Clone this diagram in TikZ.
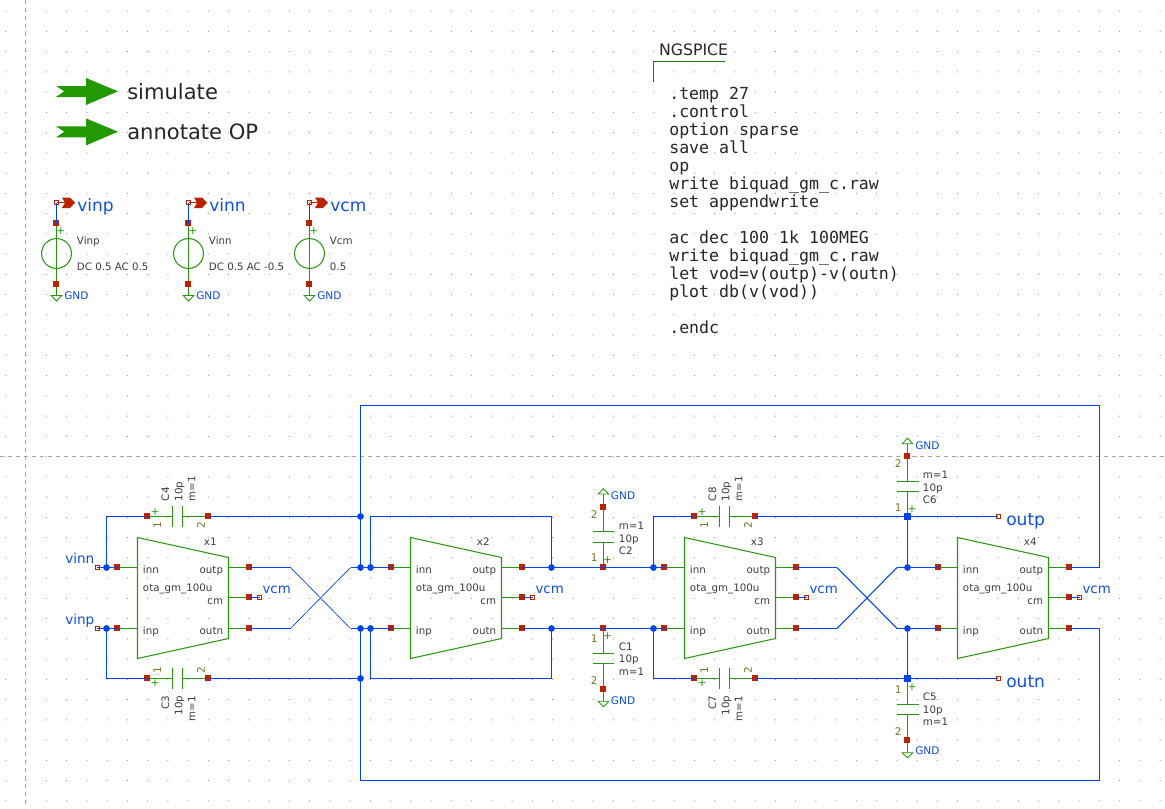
\documentclass[tikz,border=0pt]{standalone}
\usepackage{fontspec}
\setmainfont{DejaVu Sans}
\newfontfamily\codefont{DejaVu Sans Mono}
\pgfdeclarelayer{symbols}
\pgfdeclarelayer{top}
\pgfsetlayers{symbols,main,top}
\definecolor{wireblue}{HTML}{0044EE}
\definecolor{labblue}{HTML}{1050E0}
\definecolor{pinred}{HTML}{BB2200}
\definecolor{symgreen}{HTML}{2A9510}
\definecolor{arrowgreen}{HTML}{229900}
\definecolor{numolive}{HTML}{777722}
\definecolor{txtgray}{HTML}{3C3C3C}
\definecolor{dotgray}{HTML}{A0A0A0}
\tikzset{
  wire/.style={draw=wireblue,line width=0.88pt,line join=miter},
  thinwire/.style={draw=wireblue,line width=0.5pt},
  boldcross/.style={draw=wireblue,line width=0.8pt},
  sym/.style={draw=symgreen,line width=0.78pt},
  redpin/.style={draw=none,inner sep=0pt,minimum size=4.9pt,rectangle,
     preaction={fill=pinred,transform canvas={xshift=-0.3pt,yshift=0.3pt}}},
  tinypin/.style={fill=white,draw=pinred,line width=0.6pt,inner sep=0pt,minimum size=3pt,rectangle},
  junc/.style={fill=wireblue,draw=none,inner sep=0pt,minimum size=5.1pt,circle},
  juncsq/.style={fill=wireblue,draw=none,inner sep=0pt,minimum size=4.6pt,rectangle},
  smalltxt/.style={inner sep=0pt,text=txtgray,yshift=-0.5pt,font=\fontsize{7.7}{9}\selectfont},
  gndtxt/.style={inner sep=0pt,text=labblue,yshift=-0.5pt,anchor=base west,font=\fontsize{7.9}{9}\selectfont},
  midlab/.style={inner sep=0pt,text=labblue,yshift=-0.5pt,anchor=base west,font=\fontsize{10}{12}\selectfont},
  biglab/.style={inner sep=0pt,text=labblue,yshift=-0.5pt,anchor=base west,font=\fontsize{12.8}{14}\selectfont},
  pinnum/.style={inner sep=0pt,text=numolive,font=\fontsize{7.9}{9}\selectfont},
  launchtxt/.style={inner sep=0pt,text=black!85,anchor=base west,font=\fontsize{15.8}{18}\selectfont},
  plusmark/.style={inner sep=0pt,text=arrowgreen,font=\fontsize{8}{9}\selectfont},
}
\newcommand{\symline}[1]{\begin{pgfonlayer}{symbols}\draw[sym] #1;\end{pgfonlayer}}
% OTA symbol: name, left edge x, left pin offset
\newcommand{\otasym}[3]{%
  \begin{scope}[shift={(#2,0)}]
    \node[redpin] (#1inn) at (#3,567.5) {};
    \node[redpin] (#1inp) at (#3,628.5) {};
    \node[redpin] (#1outp) at (112,567.5) {};
    \node[redpin] (#1cm) at (112,597.5) {};
    \node[redpin] (#1outn) at (112,628.5) {};
    \node[tinypin] (#1vcm) at (122,597.5) {};
    \symline{(0,537.5) -- (91,557.5) -- (91,638.5) -- (0,658.5) -- cycle}
    \symline{(#1inn.center) -- (0,567.5)}
    \symline{(#1inp.center) -- (0,628.5)}
    \symline{(91,567.5) -- (#1outp.center)}
    \symline{(91,597.5) -- (#1cm.center)}
    \symline{(91,628.5) -- (#1outn.center)}
    \node[smalltxt,anchor=base west] (#1tinn) at (5.2,573.3) {inn};
    \node[smalltxt,anchor=base west] (#1tinp) at (5.2,634) {inp};
    \node[smalltxt,anchor=base east] (#1toutp) at (85.8,573.3) {outp};
    \node[smalltxt,anchor=base east] (#1toutn) at (85.8,634) {outn};
    \node[smalltxt,anchor=base east] (#1tcm) at (85.8,603.7) {cm};
    \node[smalltxt,anchor=base west] (#1tmod) at (5.2,591) {ota\_gm\_100u};
    \node[smalltxt,anchor=base west] (#1tname) at (66.2,545) {#1};
    \node[midlab] (#1tvcm) at (124.8,593.3) {vcm};
    \draw[wire] (#1cm.center) -- (#1vcm.center);
  \end{scope}}
% horizontal capacitor: name, pin 1 x, y, side (+1 below / -1 above)
\newcommand{\hcap}[4]{%
  \begin{scope}[shift={(#2,#3)}]
    \node[redpin] (#1a) at (0,0) {};
    \node[redpin] (#1b) at (61,0) {};
    \symline{(#1a.center) -- (25,0) (25,-10.5) -- (25,10.5)
               (35,-10.5) -- (35,10.5) (35,0) -- (#1b.center)}
    \ifnum#4>0
      \node[plusmark] (#1plus) at (7.7,5) {+};
      \node[pinnum,rotate=90] (#1n1) at (9.7,-8.3) {1};
      \node[pinnum,rotate=90] (#1n2) at (53.4,-8.3) {2};
      \node[smalltxt,rotate=90,anchor=base east] (#1t1) at (21.5,16.5) {#1};
      \node[smalltxt,rotate=90,anchor=base east] (#1t2) at (34.8,16.5) {10p};
      \node[smalltxt,rotate=90,anchor=base east] (#1t3) at (47.8,16.5) {m=1};
    \else
      \node[plusmark] (#1plus) at (7.7,-4.5) {+};
      \node[pinnum,rotate=90] (#1n1) at (9.7,8.5) {1};
      \node[pinnum,rotate=90] (#1n2) at (53.4,8.5) {2};
      \node[smalltxt,rotate=90,anchor=base west] (#1t1) at (21.5,-15.8) {#1};
      \node[smalltxt,rotate=90,anchor=base west] (#1t2) at (34.8,-15.8) {10p};
      \node[smalltxt,rotate=90,anchor=base west] (#1t3) at (47.8,-15.8) {m=1};
    \fi
  \end{scope}}
% vertical capacitor: name, x, y of far pin, plate1 y, plate2 y, y of pin 1, half plate width
\newcommand{\vcap}[7]{%
  \node[redpin] (#1far) at (#2,#3) {};
  \node[redpin] (#1a) at (#2,#6) {};
  \symline{(#1far.center) -- (#2,#4) ({#2-#7},#4) -- ({#2+#7},#4)
             ({#2-#7},#5) -- ({#2+#7},#5) (#2,#5) -- (#1a.center)}}
% ground: name, x, start node, base y, apex y, text x, text baseline
\newcommand{\gndmark}[7]{%
  \coordinate (#1base) at (#2,#4);
  \symline{(#3.center) -- (#1base)}
  \begin{pgfonlayer}{symbols}
  \draw[sym,fill=white,line width=0.65pt] ({#2-5.3},#4) -- ({#2+5.3},#4) -- (#2,#5) -- cycle;
  \end{pgfonlayer}
  \node[gndtxt] (#1txt) at (#6,#7) {GND};}
% launcher arrow: y centre
\newcommand{\launch}[2]{%
  \fill[arrowgreen] (56,#2-5.3) -- (86,#2-5.3) -- (86,#2-13.3) -- (118,#2) -- (86,#2+13.7)
     -- (86,#2+5.7) -- (56,#2+5.7) -- (64.3,#2) -- cycle;}
% voltage source: name, x, name text, value text, label text
\newcommand{\vsource}[5]{%
  \node[redpin] (#1top) at (#2,223.5) {};
  \node[redpin] (#1bot) at (#2,284.5) {};
  \node[tinypin] (#1lab) at (#2,202.5) {};
  \begin{pgfonlayer}{symbols}
  \node[draw=symgreen,line width=0.78pt,circle,inner sep=0pt,minimum size=22.4pt,fill=none] (#1circ) at (#2,253.5) {};
  \end{pgfonlayer}
  \symline{(#1top.center) -- (#1bot.center)}
  \node[plusmark] (#1plus) at ({#2+4.4},230.7) {+};
  \node[smalltxt,anchor=base west] (#1name) at ({#2+20.2},244) {#3};
  \node[smalltxt,anchor=base west] (#1val) at ({#2+20.2},270) {#4};
  \gndmark{#1g}{#2}{#1bot}{295.5}{301}{#2+7.5}{298.7}
  \fill[pinred] ({#2+5.5},197.5) -- ({#2+13.5},197.5) -- ({#2+18.7},202.7) -- ({#2+13.5},208) -- ({#2+5.5},208) -- ({#2+8.5},202.7) -- cycle;
  \draw[draw=pinred,line width=0.8pt] (#1lab.center) -- ({#2+8},202.5);
  \draw[wire] (#1lab.center) -- (#1top.center);
  \node[biglab] (#1ltxt) at ({#2+20.5},210.7) {#5};}

\begin{document}
\begin{tikzpicture}[x=0.75pt,y=-0.75pt]
\useasboundingbox (0,0) rectangle (1165,808);
\begin{pgfonlayer}{symbols}
\fill[white] (0,0) rectangle (1165,808);
% grid
\fill[dotgray] \foreach \i in {-1,...,56}{\foreach \j in {-17,...,22}{
   ({25.6+20.25*\i},{456-20.25*\j}) rectangle +(1,1)}};
\draw[draw=black!35,line width=0.75pt,dash pattern=on 3pt off 3pt] (25.4,0) -- (25.4,808);
\draw[draw=black!35,line width=0.75pt,dash pattern=on 3pt off 3pt] (0,456.4) -- (1165,456.4);
\end{pgfonlayer}

% launchers
\launch{launchsim}{91.3}
\launch{launchop}{131.7}
\node[launchtxt] (simtxt) at (127,99.3) {simulate};
\node[launchtxt] (optxt) at (127,139.3) {annotate OP};

% sources
\vsource{sa}{56.5}{Vinp}{DC 0.5 AC 0.5}{vinp}
\vsource{sb}{188.5}{Vinn}{DC 0.5 AC -0.5}{vinn}
\vsource{sc}{309.5}{Vcm}{0.5}{vcm}

% NGSPICE block
\coordinate (codeA) at (725,61.5);
\coordinate (codeB) at (653.5,61.5);
\coordinate (codeC) at (653.5,81.7);
\draw[draw=symgreen!80!black,line width=0.75pt] (codeA) -- (codeB) -- (codeC);
\node[inner sep=0pt,anchor=base west,text=black!85,font=\fontsize{11.8}{14}\selectfont] (codeTitle) at (658.8,55.8) {NGSPICE};
\foreach \i/\t in {0/.temp 27,1/.control,2/option sparse,3/save all,4/op,5/write biquad\_gm\_c.raw,6/set appendwrite,
   8/ac dec 100 1k 100MEG,9/write biquad\_gm\_c.raw,10/let vod=v(outp)-v(outn),11/plot db(v(vod)),13/.endc}{
  \node[inner sep=0pt,anchor=base west,text=black!85,font=\codefont\fontsize{12.44}{14}\selectfont] (code\i) at (669,{99.6+18.03*\i}) {\t};
}

% OTA instances
\otasym{x1}{137.5}{-20}
\otasym{x2}{410.5}{-19}
\otasym{x3}{684.5}{-20}
\otasym{x4}{957.5}{-19}

% horizontal capacitors
\hcap{C4}{147.5}{516.5}{-1}
\hcap{C3}{147.5}{678.5}{1}
\hcap{C8}{694.5}{516.5}{-1}
\hcap{C7}{694.5}{678.5}{1}

% vertical capacitors
\vcap{C2}{603.5}{507.5}{531.5}{542.5}{567.5}{10.5}
\vcap{C1}{603.5}{689.5}{663.5}{653.5}{628.5}{10.5}
\vcap{C6}{907.5}{456.5}{481.5}{491.5}{516.5}{11}
\vcap{C5}{907.5}{740.5}{714.5}{704.5}{678.5}{11}
\gndmark{g2}{603.5}{C2far}{494}{488.7}{610.7}{499.3}
\gndmark{g1}{603.5}{C1far}{701.3}{706.7}{610.7}{704}
\gndmark{g6}{907.5}{C6far}{443.7}{438.3}{915}{448.7}
\gndmark{g5}{907.5}{C5far}{752.7}{757.7}{915}{754.3}

\node[smalltxt,anchor=base west] (C2t3) at (618.7,528.7) {m=1};
\node[smalltxt,anchor=base west] (C2t2) at (618.7,541.7) {10p};
\node[smalltxt,anchor=base west] (C2t1) at (618.7,554) {C2};
\node[pinnum] (C2n2) at (594.3,515) {2};
\node[pinnum] (C2n1) at (594.3,558) {1};
\node[plusmark] (C2plus) at (607.7,559.7) {+};
\node[smalltxt,anchor=base west] (C1t1) at (618.7,649.7) {C1};
\node[smalltxt,anchor=base west] (C1t2) at (618.7,662.3) {10p};
\node[smalltxt,anchor=base west] (C1t3) at (618.7,675) {m=1};
\node[pinnum] (C1n1) at (594.3,638.3) {1};
\node[pinnum] (C1n2) at (594.3,681) {2};
\node[plusmark] (C1plus) at (607.7,635.7) {+};
\node[smalltxt,anchor=base west] (C6t3) at (922.7,477.7) {m=1};
\node[smalltxt,anchor=base west] (C6t2) at (922.7,490.7) {10p};
\node[smalltxt,anchor=base west] (C6t1) at (922.7,503.3) {C6};
\node[pinnum] (C6n2) at (898.3,464) {2};
\node[pinnum] (C6n1) at (898.3,507.3) {1};
\node[plusmark] (C6plus) at (912,509.3) {+};
\node[smalltxt,anchor=base west] (C5t1) at (922.7,700) {C5};
\node[smalltxt,anchor=base west] (C5t2) at (922.7,712.7) {10p};
\node[smalltxt,anchor=base west] (C5t3) at (922.7,725.3) {m=1};
\node[pinnum] (C5n1) at (898.3,689.3) {1};
\node[pinnum] (C5n2) at (898.3,732) {2};
\node[plusmark] (C5plus) at (912,686.7) {+};

% junction dots, above the wires
\begin{pgfonlayer}{top}
\node[junc] (jA) at (106.5,567.5) {};
\node[junc] (jB) at (106.5,628.5) {};
\node[junc] (jC) at (360.5,516.5) {};
\node[junc] (jD) at (360.5,567.5) {};
\node[junc] (jE) at (370.5,567.5) {};
\node[junc] (jF) at (360.5,628.5) {};
\node[junc] (jG) at (370.5,628.5) {};
\node[junc] (jH) at (360.5,678.5) {};
\node[junc] (jI) at (551.5,567.5) {};
\node[junc] (jJ) at (551.5,628.5) {};
\node[junc] (jK) at (653.5,567.5) {};
\node[junc] (jL) at (653.5,628.5) {};
\node[junc] (jM) at (907.5,567.5) {};
\node[junc] (jN) at (907.5,628.5) {};
\node[juncsq] (jO) at (907.5,516.5) {};
\node[juncsq] (jP) at (907.5,678.5) {};
\end{pgfonlayer}

% pins of the circuit ports
\node[tinypin] (pvinn) at (97,567.5) {};
\node[tinypin] (pvinp) at (97,628.5) {};
\node[tinypin] (poutp) at (998,516.5) {};
\node[tinypin] (poutn) at (998,678.5) {};
\node[midlab,font=\fontsize{10.2}{12}\selectfont] (lvinn) at (65,563.3) {vinn};
\node[midlab,font=\fontsize{10.2}{12}\selectfont] (lvinp) at (65,624) {vinp};
\node[biglab] (loutp) at (1006,525) {outp};
\node[biglab] (loutn) at (1006,687.3) {outn};

% routing corners
\coordinate (tl) at (360.5,405.5);
\coordinate (tr) at (1099.5,405.5);
\coordinate (bl) at (360.5,780.5);
\coordinate (br) at (1099.5,780.5);
\coordinate (c2a) at (370.5,516.5);
\coordinate (c2b) at (551.5,516.5);
\coordinate (c2c) at (370.5,678.5);
\coordinate (c2d) at (551.5,678.5);
\coordinate (cra) at (290.5,567.5);
\coordinate (crb) at (350.5,628.5);
\coordinate (crc) at (290.5,628.5);
\coordinate (crd) at (350.5,567.5);
\coordinate (cre) at (837,567.5);
\coordinate (crf) at (897,628.5);
\coordinate (crg) at (837,628.5);
\coordinate (crh) at (897,567.5);

% wires
\draw[wire] (pvinn.center) -- (x1inn.center);
\draw[wire] (pvinp.center) -- (x1inp.center);
\draw[wire] (jA.center) |- (C4a.center);
\draw[wire] (jB.center) |- (C3a.center);
\draw[wire] (C4b.center) -- (jC.center);
\draw[wire] (C3b.center) -- (jH.center);
\draw[wire] (x1outp.center) -- (cra);
\draw[thinwire] (cra) -- (crb);
\draw[wire] (crb) -- (x2inp.center);
\draw[wire] (x1outn.center) -- (crc);
\draw[thinwire] (crc) -- (crd);
\draw[wire] (crd) -- (x2inn.center);
\draw[wire] (jD.center) -- (tl) -- (tr) |- (x4outp.center);
\draw[wire] (jF.center) -- (bl) -- (br) |- (x4outn.center);
\draw[wire] (jE.center) -- (c2a) -- (c2b) -- (jI.center);
\draw[wire] (jG.center) -- (c2c) -- (c2d) -- (jJ.center);
\draw[wire] (x2outp.center) -- (x3inn.center);
\draw[wire] (x2outn.center) -- (x3inp.center);
\draw[wire] (jK.center) |- (C8a.center);
\draw[wire] (jL.center) |- (C7a.center);
\draw[wire] (C8b.center) -- (poutp.center);
\draw[wire] (C7b.center) -- (poutn.center);
\draw[wire] (jO.center) -- (jM.center);
\draw[wire] (jP.center) -- (jN.center);
\draw[wire] (x3outp.center) -- (cre);
\draw[boldcross] (cre) -- (crf);
\draw[wire] (crf) -- (x4inp.center);
\draw[wire] (x3outn.center) -- (crg);
\draw[boldcross] (crg) -- (crh);
\draw[wire] (crh) -- (x4inn.center);
\end{tikzpicture}
\end{document}
